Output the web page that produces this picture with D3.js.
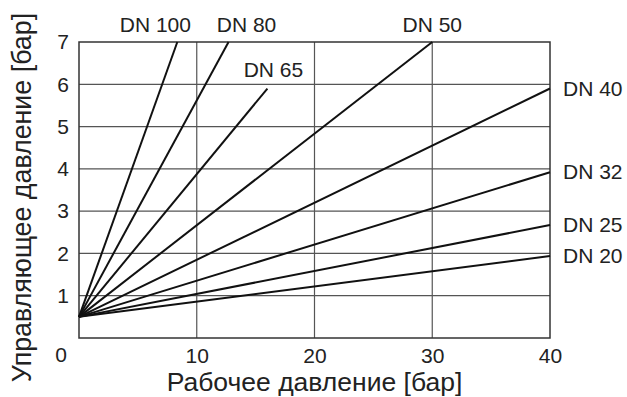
<!DOCTYPE html>
<html>
<head>
<meta charset="utf-8">
<script src="https://cdn.jsdelivr.net/npm/d3@7"></script>
<style>
  html, body { margin: 0; padding: 0; background: #fff; }
  svg { display: block; font-family: "Liberation Sans", Arial, sans-serif; }
</style>
</head>
<body>
<svg id="chart" width="627" height="397"></svg>
<script>
// ---- data ----
const seriesNames = ["DN 100", "DN 80", "DN 65", "DN 50", "DN 40", "DN 32", "DN 25", "DN 20"];
const startX = [0, 0, 0, 0, 0, 0, 0, 0];
const startY = [0.5, 0.5, 0.5, 0.5, 0.5, 0.5, 0.5, 0.5];
const endX = [8.35, 12.7, 16.0, 30.0, 40, 40, 40, 40];
const endY = [7, 7, 5.9, 7, 5.9, 3.92, 2.67, 1.94];
const xTicks = [10, 20, 30, 40];
const yTicks = [0, 1, 2, 3, 4, 5, 6, 7];
const xTitle = "Рабочее давление [бар]";
const yTitle = "Управляющее давление [бар]";

// ---- label placement (style, px offsets from line end) ----
const labelDx = [-22, 18, 6, 0, 13, 13, 13, 13];
const labelDy = [-10, -10, -12, -10, 7, 7, 7, 7];
const labelAnchor = ["middle", "middle", "middle", "middle", "start", "start", "start", "start"];

const FONT = "Liberation Sans, Arial, sans-serif";
const svg = d3.select("#chart");
const W = 627, H = 397;
const m = { left: 79, right: 77, top: 42, bottom: 59 };
const x = d3.scaleLinear().domain([0, 40]).range([m.left, W - m.right]);
const y = d3.scaleLinear().domain([0, 7]).range([H - m.bottom, m.top]);

// grid
const g = svg.append("g");
g.selectAll(".vg").data(xTicks.filter(t => t < 40)).enter().append("line")
  .attr("x1", d => x(d)).attr("x2", d => x(d)).attr("y1", y(0)).attr("y2", y(7))
  .attr("stroke", "#555").attr("stroke-width", 1.2);
g.selectAll(".hg").data(yTicks.filter(t => t > 0 && t < 7)).enter().append("line")
  .attr("x1", x(0)).attr("x2", x(40)).attr("y1", d => y(d)).attr("y2", d => y(d))
  .attr("stroke", "#555").attr("stroke-width", 1.2);
// frame
g.append("rect").attr("x", x(0)).attr("y", y(7)).attr("width", x(40) - x(0)).attr("height", y(0) - y(7))
  .attr("fill", "none").attr("stroke", "#333").attr("stroke-width", 1.5);

// axes (labels only)
const xAxis = d3.axisBottom(x).tickValues(xTicks).tickFormat(d3.format("d")).tickSize(0).tickPadding(10);
const xg = svg.append("g").attr("transform", `translate(0,${y(0)})`).call(xAxis)
  .attr("font-size", 21).attr("font-family", FONT);
xg.select(".domain").remove();
xg.selectAll("text").attr("fill", "#222");

const yAxis = d3.axisLeft(y).tickValues(yTicks).tickFormat(d3.format("d")).tickSize(0).tickPadding(10);
const yg = svg.append("g").attr("transform", `translate(${x(0)},0)`).call(yAxis)
  .attr("font-size", 21).attr("font-family", FONT);
yg.select(".domain").remove();
yg.selectAll("text").attr("fill", "#222");
yg.selectAll(".tick").filter(d => d === 0).select("text").attr("dy", "1.1em").attr("dx", "-0.1em");

// lines
const data = seriesNames.map((n, i) => ({ n, i, p: [[startX[i], startY[i]], [endX[i], endY[i]]] }));
const line = d3.line().x(d => x(d[0])).y(d => y(d[1]));
svg.append("g").selectAll("path").data(data).enter().append("path")
  .attr("d", d => line(d.p)).attr("fill", "none").attr("stroke", "#111").attr("stroke-width", 2);

// labels
svg.append("g").selectAll("text").data(data).enter().append("text")
  .attr("x", d => x(endX[d.i]) + labelDx[d.i])
  .attr("y", d => y(endY[d.i]) + labelDy[d.i])
  .attr("text-anchor", d => labelAnchor[d.i])
  .attr("font-size", 21).attr("fill", "#222")
  .text(d => d.n);

// titles
svg.append("text").attr("x", (x(0) + x(40)) / 2).attr("y", 391).attr("text-anchor", "middle")
  .attr("font-size", 26.5).attr("fill", "#222").text(xTitle);
svg.append("text").attr("transform", `translate(31,${(y(0) + y(7)) / 2 + 7.5}) rotate(-90)`).attr("text-anchor", "middle")
  .attr("font-size", 26.8).attr("fill", "#222").text(yTitle);
</script>
</body>
</html>
